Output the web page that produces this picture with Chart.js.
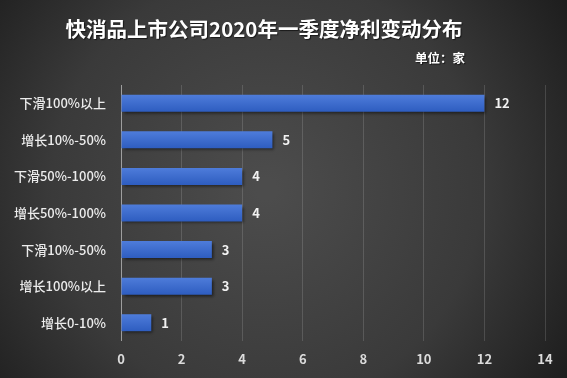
<!DOCTYPE html>
<html><head><meta charset="utf-8">
<script src="https://cdn.jsdelivr.net/npm/chart.js@4/dist/chart.umd.min.js"></script>
<style>html,body{margin:0;padding:0;background:#2a2a2a;}#wrap{width:567px;height:378px;position:relative;}</style>
</head><body><div id="wrap"><canvas id="c" width="567" height="378"></canvas></div>
<script>
const titleText = '快消品上市公司2020年一季度净利变动分布';
const unitText = '单位：家';
const categories = ['下滑100%以上','增长10%-50%','下滑50%-100%','增长50%-100%','下滑10%-50%','增长100%以上','增长0-10%'];
const values = [12,5,4,4,3,3,1];
const xTicks = [0,2,4,6,8,10,12,14];

const FONT = '"Noto Sans CJK SC","Noto Sans",sans-serif';

const bgPlugin = {
  id:'bg',
  beforeDraw(chart){
    const {ctx,width,height} = chart;
    ctx.save();
    const g = ctx.createRadialGradient(width*0.47,height*0.5,10,width*0.47,height*0.5,width*0.62);
    g.addColorStop(0,'#4c4c4c');
    g.addColorStop(0.6,'#3a3a3a');
    g.addColorStop(1,'#1e1e1e');
    ctx.fillStyle = g;
    ctx.fillRect(0,0,width,height);
    ctx.fillStyle = '#ffffff';
    ctx.textAlign = 'center';
    ctx.textBaseline = 'middle';
    ctx.font = 'bold 20.5px ' + FONT;
    ctx.shadowColor='rgba(0,0,0,0.6)';ctx.shadowOffsetX=1;ctx.shadowOffsetY=1;ctx.shadowBlur=1;
    ctx.fillText(titleText, 264, 29);
    ctx.textAlign = 'right';
    ctx.font = 'bold 12.5px ' + FONT;
    ctx.fillText(unitText, 465, 58);
    ctx.restore();
  }
};

const shadowPlugin = {
  id:'shadow',
  beforeDatasetsDraw(chart){
    const ctx=chart.ctx; ctx.save();
    ctx.shadowColor='rgba(0,0,0,0.55)'; ctx.shadowOffsetX=2; ctx.shadowOffsetY=2; ctx.shadowBlur=3;
  },
  afterDatasetsDraw(chart){
    chart.ctx.restore();
    const ctx=chart.ctx;
    const meta=chart.getDatasetMeta(0);
    ctx.save();
    ctx.fillStyle='#f2f2f2';
    ctx.font='bold 13px '+FONT;
    ctx.textAlign='left'; ctx.textBaseline='middle';
    meta.data.forEach((el,i)=>{
      ctx.fillText(String(values[i]), el.x+10, el.y);
    });
    ctx.restore();
  }
};

new Chart(document.getElementById('c'),{
  type:'bar',
  data:{labels:categories,datasets:[{
    data:values,
    backgroundColor:(c)=>{
      const ch=c.chart; const ys=ch.scales && ch.scales.y;
      if(!ys || !ch.chartArea || c.dataIndex===undefined) return '#3a68c8';
      const cy=ys.getPixelForValue(c.dataIndex);
      const g=ch.ctx.createLinearGradient(0,cy-9,0,cy+9);
      g.addColorStop(0,'#4f7ddb'); g.addColorStop(1,'#2d5cbf');
      return g;
    },
    borderWidth:0,
    barPercentage:0.8,
    categoryPercentage:0.58
  }]},
  options:{
    indexAxis:'y',
    responsive:false,
    animation:false,
    devicePixelRatio:1,
    layout:{padding:{top:85,right:22,left:0,bottom:0}},
    plugins:{legend:{display:false},tooltip:{enabled:false}},
    scales:{
      x:{
        min:0,max:14,
        afterBuildTicks(s){ s.ticks = xTicks.map(v=>({value:v})); },
        afterFit(s){ s.height=37; },
        grid:{color:(c)=> c.tick && c.tick.value===0 ? 'rgba(200,200,200,0.7)' : 'rgba(255,255,255,0.14)', lineWidth:1, drawTicks:false},
        border:{display:false},
        ticks:{color:'#dcdcdc',font:{family:FONT,size:13,weight:'bold'},padding:10}
      },
      y:{
        afterFit(s){ s.width=121; },
        grid:{display:false,drawTicks:false},
        border:{display:false},
        ticks:{color:'#ececec',font:{family:FONT,size:13,weight:'500'},padding:15}
      }
    }
  },
  plugins:[bgPlugin,shadowPlugin]
});
</script></body></html>
